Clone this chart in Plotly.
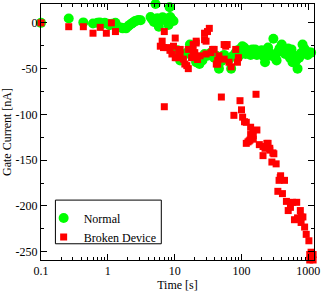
import plotly.graph_objects as go

# Normal device: time [s], gate current [nA]
normal_t = [0.1, 0.26, 0.43, 0.6, 0.7, 0.76, 0.85, 0.9, 1.0, 1.06, 1.15, 1.3, 1.4, 1.55, 1.67, 1.8,
            1.87, 2.0, 2.1, 2.25, 2.35, 2.5, 2.6, 2.75, 2.9, 3.1, 4.36, 4.6, 4.9, 5.17, 5.5, 5.8,
            5.8, 6.2, 6.6, 7.3, 7.6, 8.1, 8.4, 8.6, 9.0, 9.6, 11, 12.1, 13.5, 15, 16.9, 18.5,
            21, 22, 23.5, 26, 28, 31, 35, 39, 42, 46, 50, 55, 60, 65, 70, 75, 82, 88, 92, 97,
            103, 110, 115, 122, 130, 137, 145, 152, 160, 170, 180, 190, 200, 210, 225, 235, 250,
            265, 280, 300, 320, 335, 350, 370, 400, 420, 450, 470, 500, 530, 560, 580, 620, 660,
            690, 730, 780, 820, 870, 930, 980, 1030, 1100]
normal_i = [0, 4.7, 0.5, -0.7, 0, 0.5, -1, 0, -1, -2.5, -1, 0, -4, -5, -6, -5.5,
            -6, -4, -2.5, -1, 0, 1.5, 2, 2.5, 3, 2.9, 6.4, 4, 1, 20.6, 5, 2.9,
            -4.2, 3, 6, 4.7, 2, -2.4, 17, 6.4, 4, 2, -30, -41, -36, -33, -23.7, -37,
            -43, -38, -45, -41, -34, -36, -32.5, -38, -36, -50, -42, -35, -38, -40, -50, -36, -32.5, -30, -36, -28,
            -25.5, -27, -34, -30, -31, -35, -29, -33, -29, -35, -32.5, -32.5, -30, -36, -43, -35, -27,
            -33, -36, -17.3, -38, -41, -32, -28, -23.7, -30, -34, -32.5, -28, -38, -29, -43, -36, -41,
            -50, -38, -33, -23.7, -28, -31, -35, -32.5, -32.5]

# Broken device
broken_t = [0.1, 0.26, 0.43, 0.6, 0.77, 0.95, 1.13, 1.3, 6.1, 6.5, 6.8, 7.0, 7.0, 7.7, 8.5, 9.1,
            9.6, 10.2, 10.2, 10.8, 11.5, 12.1, 12.1, 13.5, 14.2, 15.2, 16, 16, 17.9, 18.9, 18.9, 20,
            21, 21, 22, 24, 28, 28, 29.5, 29.5, 31, 33, 35, 37, 39, 42, 44, 44, 46, 50, 55, 55,
            58, 61, 65, 70, 77, 82, 87, 90, 95, 100, 104, 111, 118, 118, 125, 130, 134, 137, 137,
            148, 150, 150, 165, 170, 185, 210, 210, 225, 240, 250, 265, 265, 285, 295, 305, 330,
            350, 365, 380, 385, 410, 440, 470, 500, 540, 580, 620, 670, 690, 760, 780, 780, 830,
            880, 930, 1020, 1050, 1050, 1100, 1180, 1180]
broken_i = [0, -4.2, -4.2, -11.3, -4.9, -11.3, 0, -9.5, -25.5, -20, -27, -9.5, -91.6, -27, -30, -34,
            -25.5, -16.6, -38, -38, -31, -29, -34, -39.6, -45, -46.7, -50, -29, -38, -23.7, -31, -32.5,
            -20, -22, -40, -36, -18.4, -11.3, -20, -34, -9.5, -6, -32.5, -29, -29, -45, -41, -45, -36, -81, -39.6, -23.7,
            -25.5, -23.7, -43, -48, -101, -29, -43, -38, -85, -95, -103, -108, -108.6, -131.6, -130, -129, -128, -114, -122,
            -118, -123, -127, -78, -117, -133, -135, -145, -137, -131.6, -131.6, -137, -139, -152, -142, -143, -154,
            -184, -172, -169, -167, -186.5, -172, -195, -205, -201.5, -196, -215, -196, -213, -205, -212, -218, -212,
            -223, -231, -238, -253, -259, -250.5, -253, -259]

x_tick_vals = [0.1, 1, 10, 100, 1000]
x_tick_text = ["0.1", "1", "10", "100", "1000"]
x_minor_vals = [m * d for d in [0.1, 1, 10, 100, 1000] for m in range(2, 10)]
y_tick_vals = [0, -50, -100, -150, -200, -250]
y_tick_text = ["0", "-50", "-100", "-150", "-200", "-250"]
y_minor_vals = [-25, -75, -125, -175, -225]

FONT = "Liberation Serif"

fig = go.Figure()
fig.add_trace(go.Scatter(x=normal_t, y=normal_i, mode="markers", name="Normal", cliponaxis=False,
                         marker=dict(symbol="circle", size=10, color="#00ff00", line=dict(width=0))))
fig.add_trace(go.Scatter(x=broken_t, y=broken_i, mode="markers", name="Broken Device", cliponaxis=False,
                         marker=dict(symbol="square", size=7, color="#ff0000", line=dict(width=0))))

axis_common = dict(showline=True, linecolor="black", linewidth=1, mirror="ticks",
                   ticks="inside", ticklen=6, tickcolor="black", showgrid=False, zeroline=False,
                   ticklabeloverflow="allow",
                   tickfont=dict(family=FONT, size=12, color="black"))

fig.update_xaxes(type="log", range=[-1, 3.085], tickmode="array", tickvals=x_tick_vals,
                 ticktext=x_tick_text,
                 minor=dict(ticks="inside", ticklen=3, tickcolor="black", tickvals=x_minor_vals, showgrid=False),
                 title=dict(text="Time [s]", font=dict(family=FONT, size=12, color="black"), standoff=2),
                 **axis_common)
fig.update_yaxes(range=[-259, 20.6], tickmode="array", tickvals=y_tick_vals, ticktext=y_tick_text,
                 minor=dict(ticks="inside", ticklen=3, tickcolor="black", tickvals=y_minor_vals, showgrid=False),
                 title=dict(text="Gate Current [nA]", font=dict(family=FONT, size=12, color="black"), standoff=4),
                 **axis_common)

# legend frame
fig.add_shape(type="rect", xref="paper", yref="paper", x0=0.0528, x1=0.4407, y0=0.0634, y1=0.234,
              line=dict(color="black", width=1), fillcolor="white", layer="below")

fig.update_layout(width=323, height=292, margin=dict(l=38, r=6, t=3, b=25),
                  plot_bgcolor="white", paper_bgcolor="white",
                  font=dict(family=FONT, size=12, color="black"),
                  legend=dict(x=0.0097, y=0.2207, xanchor="left", yanchor="top",
                              borderwidth=0, bgcolor="rgba(0,0,0,0)",
                              font=dict(family=FONT, size=12, color="black"),
                              itemsizing="trace"))

fig.write_html("out.html")
